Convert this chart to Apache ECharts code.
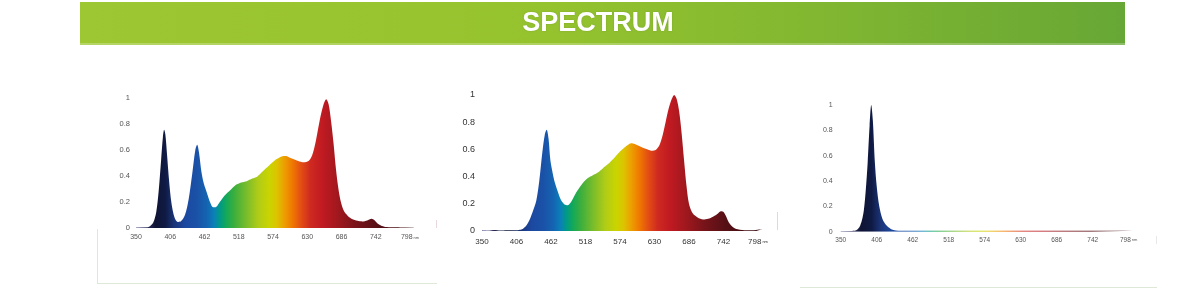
<!DOCTYPE html>
<html>
<head>
<meta charset="utf-8">
<script src="https://cdn.jsdelivr.net/npm/echarts@6/dist/echarts.min.js"></script>
<style>
html,body{margin:0;padding:0;background:#fff;}
#c{width:1185px;height:297px;}
</style>
</head>
<body>
<div id="c"></div>
<script>
// ---- data ----
var title = 'SPECTRUM';
var xTicks = [350, 406, 462, 518, 574, 630, 686, 742, 798];
var yTicks = [0, 0.2, 0.4, 0.6, 0.8, 1];

// chart 1: full spectrum with 396 nm UV + 450 nm blue + 660 nm red
var wl1 = [350,365,372,378,383,387,391,394,396,398,401,404,408,413,418,423,430,436,442,447,450,453,457,461,466,471,476,480,487,495,504,513,522,531,540,548,556,564,572,580,588,594,600,607,615,624,632,638,644,650,656,661,665,669,673,677,681,685,690,696,703,712,720,728,735,740,746,752,760,775,790,805];
var val1 = [0.005,0.005,0.012,0.04,0.12,0.28,0.52,0.7,0.755,0.72,0.55,0.37,0.19,0.08,0.047,0.05,0.1,0.22,0.42,0.6,0.64,0.58,0.43,0.34,0.27,0.2,0.16,0.16,0.2,0.25,0.29,0.33,0.35,0.36,0.38,0.395,0.43,0.465,0.5,0.53,0.55,0.553,0.545,0.53,0.515,0.505,0.515,0.56,0.67,0.82,0.94,0.99,0.95,0.82,0.65,0.45,0.3,0.2,0.13,0.095,0.07,0.055,0.05,0.058,0.072,0.06,0.03,0.016,0.008,0.005,0.003,0.002];

// chart 2: full spectrum 450 nm blue + 660 nm red
var wl2 = [350,360,370,380,390,400,410,416,422,428,433,438,443,448,452,455,458,461,465,468,473,478,484,489,494,500,507,514,522,530,538,546,554,563,571,579,586,592,598,605,612,619,626,632,638,643,648,653,658,662,666,670,674,678,682,686,692,700,709,717,725,732,738,742,746,751,757,765,780,795,805];
var val2 = [0.008,0.004,0.008,0.004,0.006,0.005,0.008,0.015,0.04,0.09,0.15,0.22,0.37,0.58,0.71,0.745,0.68,0.52,0.42,0.36,0.29,0.23,0.195,0.19,0.21,0.26,0.31,0.355,0.39,0.41,0.43,0.46,0.49,0.53,0.57,0.605,0.63,0.645,0.64,0.625,0.61,0.6,0.59,0.595,0.63,0.7,0.8,0.9,0.97,1.0,0.97,0.88,0.72,0.52,0.33,0.2,0.13,0.1,0.085,0.09,0.105,0.125,0.145,0.14,0.11,0.06,0.03,0.012,0.005,0.008,0.012];

// chart 3: single UV peak near 397 nm
var wl3 = [350,365,374,379,383,386,389,392,395,397.5,400,403,406,410,415,421,428,436,450,500,560,620,680,740,805];
var val3 = [0.006,0.006,0.012,0.035,0.09,0.17,0.33,0.55,0.84,1.0,0.88,0.56,0.36,0.2,0.1,0.05,0.022,0.01,0.008,0.008,0.008,0.008,0.008,0.008,0.008];

// spectrum colour stops (wavelength -> colour)
var stopNm = [350,368,382,398,412,430,450,466,477,487,497,510,530,550,568,580,592,605,620,635,655,680,710,745,805];
var stopColor = ['#8c8cb8','#30305e','#0f1434','#0f1a44','#1a3478','#1c48a0','#1a52a8','#1464b2','#0b7fb8','#009a88','#12a85a','#3aae3e','#78bc2c','#b0cc18','#cad400','#dcc400','#eca000','#f07a00','#e24e14','#cf2a20','#c01a22','#a0181e','#78141a','#561015','#3a0c10'];

var xMin = 350, xMax = 805;

function spectrumGradient(){
  var stops = stopNm.map(function(n,i){ return {offset:(n-xMin)/(xMax-xMin), color:stopColor[i]}; });
  return new echarts.graphic.LinearGradient(0,0,1,0,stops,false);
}

var panels = [
  {wl:wl1, val:val1, left:136, top:98, width:278.3, height:130, fs:7, yfs:7.5, col:'#555', xm:6, ym:6},
  {wl:wl2, val:val2, left:482, top:95, width:280.3, height:136, fs:8, yfs:9, col:'#333', xm:7, ym:7},
  {wl:wl3, val:val3, left:840.7, top:105, width:292.5, height:126.7, fs:6.5, yfs:7, col:'#555', xm:5, ym:8}
];

var grids=[], xAxes=[], yAxes=[], series=[];
panels.forEach(function(p,i){
  grids.push({left:p.left, top:p.top, width:p.width, height:p.height, containLabel:false});
  xAxes.push({
    type:'value', gridIndex:i, min:xMin, max:xMax, interval:56,
    axisLine:{show:false}, axisTick:{show:false}, splitLine:{show:false},
    axisLabel:{
      fontSize:p.fs, color:p.col, margin:p.xm, fontFamily:'Liberation Sans Narrow, Liberation Sans, sans-serif',
      showMaxLabel:false,
      formatter:function(v){ if(xTicks.indexOf(v)<0) return ''; return v===798 ? '798{u|nm}' : String(v); },
      rich:{u:{fontSize:4, color:p.col, padding:[0,0,0,1]}}
    }
  });
  yAxes.push({
    type:'value', gridIndex:i, min:0, max:1, interval:0.2,
    axisLine:{show:false}, axisTick:{show:false}, splitLine:{show:false},
    axisLabel:{fontSize:p.yfs, color:p.col, margin:p.ym, fontFamily:'Liberation Sans, sans-serif'}
  });
  series.push({
    type:'line', xAxisIndex:i, yAxisIndex:i, smooth:0.3, showSymbol:false, symbol:'none',
    lineStyle:{width:0},
    areaStyle:{color:spectrumGradient(), opacity:1},
    data:p.wl.map(function(w,k){ return [w, p.val[k]]; }),
    silent:true, animation:false
  });
});

var lineCol = '#dde8d6';
var graphics = [
  {type:'rect', shape:{x:80,y:2,width:1045,height:43},
   style:{fill:new echarts.graphic.LinearGradient(0,0,1,0,[{offset:0,color:'#9dc733'},{offset:0.45,color:'#95c32e'},{offset:0.72,color:'#80b631'},{offset:1,color:'#67a735'}])}},
  {type:'rect', shape:{x:80,y:43,width:1045,height:2}, style:{fill:'rgba(255,255,255,0.25)'}},
  {type:'text', x:598, y:24, style:{text:title, fill:'#ffffff', font:'bold 27px "Liberation Sans", Arial, sans-serif', align:'center', verticalAlign:'middle', textShadowColor:'rgba(0,0,0,0.15)', textShadowBlur:2}},
  {type:'line', shape:{x1:97.5,y1:229,x2:97.5,y2:283}, style:{stroke:lineCol, lineWidth:1}},
  {type:'line', shape:{x1:97,y1:283.5,x2:437,y2:283.5}, style:{stroke:lineCol, lineWidth:1}},
  {type:'line', shape:{x1:436.5,y1:220,x2:436.5,y2:228}, style:{stroke:'#e8d8e0', lineWidth:1}},
  {type:'line', shape:{x1:777.5,y1:212,x2:777.5,y2:230}, style:{stroke:'#e0d8dc', lineWidth:1}},
  {type:'line', shape:{x1:800,y1:287.5,x2:1157,y2:287.5}, style:{stroke:lineCol, lineWidth:1}},
  {type:'line', shape:{x1:1156.5,y1:236,x2:1156.5,y2:244}, style:{stroke:'#e8e8e8', lineWidth:1}}
];

var chart = echarts.init(document.getElementById('c'), null, {renderer:'canvas'});
chart.setOption({
  animation:false,
  backgroundColor:'#ffffff',
  grid:grids, xAxis:xAxes, yAxis:yAxes, series:series,
  graphic:{elements:graphics}
});
</script>
</body>
</html>
